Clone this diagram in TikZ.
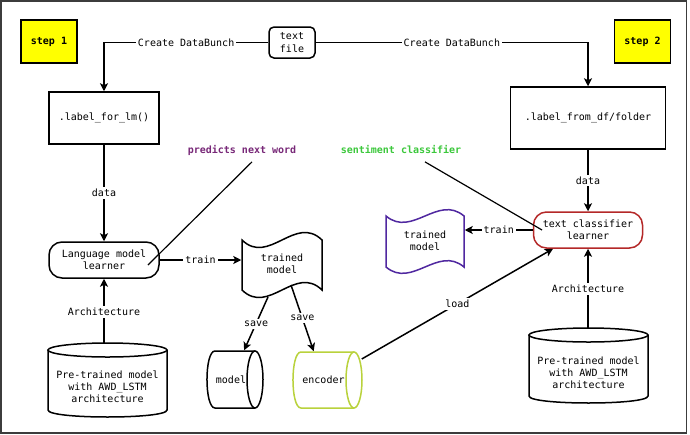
\documentclass[tikz,border=0pt]{standalone}
\usepackage{fontspec}
\setmonofont{DejaVu Sans Mono}
\usetikzlibrary{arrows.meta}
\definecolor{stepyellow}{RGB}{255,255,0}
\definecolor{clsred}{RGB}{180,40,40}
\definecolor{tapepurple}{RGB}{80,40,160}
\definecolor{predpurple}{RGB}{120,40,120}
\definecolor{sentgreen}{RGB}{60,200,60}
\definecolor{encgreen}{RGB}{185,210,60}
\definecolor{framegray}{RGB}{60,60,60}
\begin{document}
\begin{tikzpicture}[x=1pt,y=-1pt,
  font=\ttfamily\fontsize{10}{12.2}\selectfont,
  line width=1.5pt,
  stepbox/.style={draw, fill=stepyellow, minimum width=56pt, minimum height=43pt, inner sep=0pt, font=\ttfamily\bfseries\fontsize{10}{12.2}\selectfont},
  procbox/.style={draw, inner sep=0pt, align=center},
  pill/.style={draw, rounded corners=13pt, align=center, minimum width=110pt, minimum height=36pt, inner sep=0pt},
  txt/.style={align=center, inner sep=0pt},
  lbl/.style={fill=white, inner sep=2pt},
  note/.style={inner sep=1pt, font=\ttfamily\bfseries\fontsize{10}{12.2}\selectfont},
  thinline/.style={line width=1.2pt},
  arr/.style={-{Stealth[length=8pt,width=8pt,inset=2pt]}}
]
\useasboundingbox (0,0) rectangle (690,434);
\fill[white] (0,0) rectangle (690,434);
\draw[framegray, line width=1.5pt] (1,1) rectangle (686.5,433);

% step boxes
\node[stepbox] (s1) at (49,41.5) {step 1};
\node[stepbox] (s2) at (642.5,41.5) {step 2};

% text file
\node[procbox, rounded corners=5pt, minimum width=46pt, minimum height=31pt] (tf) at (292,42.5) {text\\file};

% process boxes
\node[procbox, minimum width=110pt, minimum height=52pt] (lfl) at (104,118) {.label\_for\_lm()};
\node[procbox, minimum width=155pt, minimum height=62pt] (lfd) at (588,118) {.label\_from\_df/folder};

% learners
\node[pill] (lml) at (104,260) {Language model\\learner};
\node[pill, draw=clsred, minimum width=109pt] (tcl) at (588,230) {text classifier\\learner};

% notes
\node[note, text=predpurple] (pnw) at (242,150) {predicts next word};
\node[note, text=sentgreen] (sc) at (401,150) {sentiment classifier};

% trained model tapes
\draw (242,240) .. controls (268.7,266) and (295.3,214) .. (322,240) -- (322,290)
  .. controls (295.3,264) and (268.7,316) .. (242,290) -- cycle;
\node[txt, minimum width=80pt, minimum height=50pt] (tm1) at (282,264) {trained\\model};
\draw[tapepurple] (386,216) .. controls (412,238) and (438,194) .. (464,216) -- (464,267)
  .. controls (438,245) and (412,289) .. (386,267) -- cycle;
\node[txt, minimum width=78pt, minimum height=51pt] (tm2) at (425,241) {trained\\model};

% horizontal cylinders
\draw (215,351) -- (255,351) (255,408) -- (215,408) .. controls (204.3,408) and (204.3,351) .. (215,351);
\draw (255,379.5) ellipse [x radius=8pt, y radius=28.5pt];
\node[txt, minimum width=48pt, minimum height=57pt] (mdl) at (231,379.5) {model};
\draw[encgreen] (301,352) -- (354,352) (354,408) -- (301,408) .. controls (290.3,408) and (290.3,352) .. (301,352);
\draw[encgreen] (354,380) ellipse [x radius=8pt, y radius=28pt];
\node[txt, minimum width=61pt, minimum height=56pt] (enc) at (323.5,380) {encoder};

% vertical cylinders
\draw (48,350) -- (48,410) .. controls (48,419.33) and (167,419.33) .. (167,410) -- (167,350);
\draw (107.5,350) ellipse [x radius=59.5pt, y radius=7pt];
\node[txt] (pt1) at (107.5,387) {Pre-trained model\\with AWD\_LSTM\\architecture};
\coordinate (pt1top) at (107.5,343);
\draw (529,335) -- (529,396) .. controls (529,405.33) and (648,405.33) .. (648,396) -- (648,335);
\draw (588.5,335) ellipse [x radius=59.5pt, y radius=7pt];
\node[txt] (pt2) at (588.5,373) {Pre-trained model\\with AWD\_LSTM\\architecture};
\coordinate (pt2top) at (588.5,328);

% connectors
\draw[arr] (tf.west) -| node[lbl, pos=0.25] {Create DataBunch} (lfl.north);
\draw[arr] (tf.east) -| node[lbl, pos=0.25] {Create DataBunch} (lfd.north);
\draw[arr] (lfl.south) -- node[lbl] {data} (lml.north);
\draw[arr] (lfd.south) -- node[lbl] {data} (tcl.north);
\draw[arr] (lml.south |- pt1top) -- node[lbl, pos=0.48] {Architecture} (lml.south);
\draw[arr] (tcl.south |- pt2top) -- node[lbl, pos=0.49] {Architecture} (tcl.south);
\draw[arr] (lml.east) -- node[lbl] {train} (lml.east -| tm1.west);
\draw[arr] (tcl.west) -- node[lbl] {train} (tcl.west -| tm2.east);
\coordinate (sv1) at (268,297);
\coordinate (sv2) at (291,285);
\draw[arr] (sv1) -- node[lbl] {save} (mdl);
\draw[arr] (sv2) -- node[lbl] {save} (enc);
\draw[arr] ([xshift=7pt,yshift=21pt]enc.east) -- node[lbl] {load} ([xshift=-35pt]tcl.south);
\draw[thinline] ([xshift=10pt,yshift=-5pt]pnw.south) -- ([xshift=44pt,yshift=-5pt]lml.center);
\draw[thinline] ([xshift=24pt,yshift=-6pt]sc.south) -- ([xshift=-46pt]tcl.center);
\end{tikzpicture}
\end{document}
